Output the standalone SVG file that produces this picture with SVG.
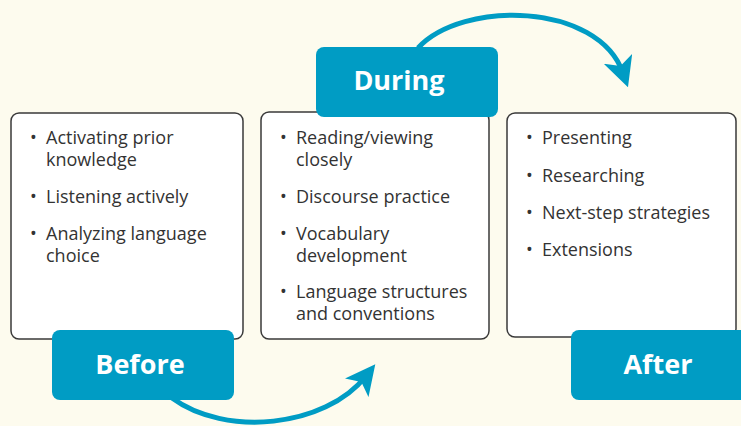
<svg xmlns="http://www.w3.org/2000/svg" width="741" height="426" viewBox="0 0 741 426">
<style>
.box{fill:#fff;stroke:#3a3a3a;stroke-width:1.5}
.tab{fill:#009cc4}
.t{font-family:"Open Sans","Liberation Sans",sans-serif;font-size:18px;fill:#333}
.h{font-family:"Open Sans","Liberation Sans",sans-serif;font-size:27px;font-weight:bold;fill:#fff;text-anchor:middle}
.arc{fill:none;stroke:#009cc4;stroke-width:5}
</style>
<defs>
<marker id="ah" markerWidth="6" markerHeight="6" refX="3" refY="3" orient="auto" markerUnits="strokeWidth">
<path d="M0,0 L6,3 L0,6 L1.5,3 Z" fill="#009cc4"/>
</marker>
</defs>
<rect width="741" height="426" fill="#fdfbee"/>
<g id="connectors">
<path class="arc" d="M172,398 C225,437 325,428 366,376" marker-end="url(#ah)"/>
<path class="arc" d="M418,48 C462,0 598,2 623,73" marker-end="url(#ah)"/>
</g>
<g id="before">
<rect class="box" x="11" y="113" width="232" height="226" rx="8"/>
<g class="t">
<text x="30" y="144">•</text><text x="46" y="144">Activating prior<tspan x="46" dy="22">knowledge</tspan></text>
<text x="30" y="203">•</text><text x="46" y="203">Listening actively</text>
<text x="30" y="240">•</text><text x="46" y="240">Analyzing language<tspan x="46" dy="22">choice</tspan></text>
</g>
<rect class="tab" x="52" y="330" width="182" height="70" rx="8"/>
<text class="h" x="140" y="374">Before</text>
</g>
<g id="during">
<rect class="box" x="261" y="112" width="228" height="227" rx="8"/>
<g class="t">
<text x="280" y="144">•</text><text x="296" y="144">Reading/viewing<tspan x="296" dy="22">closely</tspan></text>
<text x="280" y="203">•</text><text x="296" y="203">Discourse practice</text>
<text x="280" y="240">•</text><text x="296" y="240">Vocabulary<tspan x="296" dy="22">development</tspan></text>
<text x="280" y="298">•</text><text x="296" y="298">Language structures<tspan x="296" dy="22">and conventions</tspan></text>
</g>
<rect class="tab" x="316" y="47" width="182" height="70" rx="8"/>
<text class="h" x="399" y="90">During</text>
</g>
<g id="after">
<rect class="box" x="507" y="113" width="229" height="224" rx="8"/>
<g class="t">
<text x="526" y="144">•</text><text x="542" y="144">Presenting</text>
<text x="526" y="182">•</text><text x="542" y="182">Researching</text>
<text x="526" y="219">•</text><text x="542" y="219">Next-step strategies</text>
<text x="526" y="256">•</text><text x="542" y="256">Extensions</text>
</g>
<rect class="tab" x="571" y="330" width="180" height="70" rx="8"/>
<text class="h" x="658" y="374">After</text>
</g>
</svg>
